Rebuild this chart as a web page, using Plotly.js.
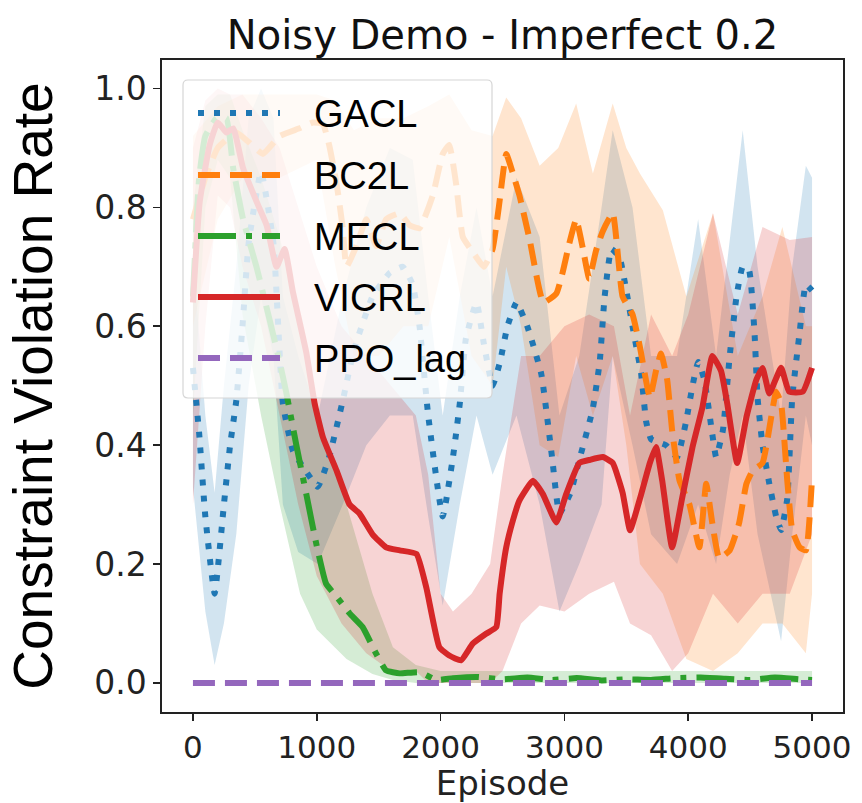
<!DOCTYPE html>
<html><head><meta charset="utf-8">
<script src="https://cdn.plot.ly/plotly-3.0.1.min.js"></script>
<style>html,body{margin:0;padding:0;background:#fff}</style>
</head><body><div id="chart" style="width:862px;height:803px"></div>
<script>
// ---- GACL (mean) ----
const gaclX = [0,50,100,175,250,300,350,400,450,550,650,726,808,900,1008,1100,1210,1300,1450,1590,1695,1775,1830,1900,2017,2100,2155,2205,2290,2350,2420,2480,2540,2613,2700,2813,2900,2960,3050,3120,3228,3285,3325,3380,3445,3500,3550,3620,3660,3700,3820,3910,3980,4035,4080,4130,4190,4225,4280,4335,4390,4440,4490,4535,4560,4600,4655,4710,4750,4800,4840,4900,4950,5000];
const gaclY = [0.53,0.42,0.28,0.15,0.30,0.40,0.475,0.60,0.74,0.86,0.74,0.47,0.39,0.36,0.33,0.38,0.475,0.56,0.65,0.69,0.70,0.67,0.60,0.45,0.28,0.38,0.47,0.58,0.64,0.57,0.50,0.54,0.60,0.64,0.60,0.52,0.38,0.285,0.32,0.375,0.46,0.54,0.65,0.73,0.716,0.66,0.60,0.52,0.44,0.41,0.40,0.38,0.437,0.50,0.54,0.51,0.425,0.38,0.425,0.55,0.65,0.70,0.695,0.59,0.48,0.40,0.335,0.28,0.257,0.31,0.48,0.59,0.67,0.66];
const gaclBandX = [0,100,175,250,350,450,550,650,726,850,1008,1210,1400,1590,1775,1900,2017,2155,2290,2420,2613,2800,2960,3120,3300,3390,3550,3700,3910,4080,4225,4335,4440,4560,4750,4840,4950,5000];
const gaclLo = [0.33,0.12,0.03,0.10,0.25,0.50,0.65,0.55,0.30,0.22,0.20,0.30,0.40,0.45,0.45,0.28,0.13,0.30,0.45,0.35,0.45,0.30,0.12,0.20,0.30,0.55,0.40,0.25,0.20,0.30,0.20,0.35,0.45,0.25,0.07,0.25,0.45,0.40];
const gaclHi = [0.72,0.45,0.32,0.50,0.70,0.95,1.00,0.95,0.65,0.55,0.45,0.65,0.80,0.90,0.88,0.65,0.45,0.65,0.80,0.65,0.85,0.75,0.45,0.55,0.80,0.93,0.80,0.55,0.55,0.78,0.55,0.75,0.93,0.70,0.45,0.70,0.87,0.85];

// ---- BC2L ----
const bc2lX = [0,100,200,350,450,565,700,860,970,1050,1100,1160,1210,1240,1320,1400,1480,1560,1670,1750,1830,1937,2017,2070,2125,2180,2260,2350,2420,2470,2530,2580,2637,2720,2830,2935,2985,3040,3095,3150,3200,3255,3310,3390,3470,3550,3610,3690,3740,3780,3830,3870,3930,4010,4090,4145,4195,4250,4335,4410,4470,4520,4600,4670,4710,4750,4800,4840,4900,4950,5000];
const bc2lY = [0.78,0.85,0.90,0.926,0.91,0.89,0.92,0.933,0.943,0.94,0.905,0.84,0.765,0.70,0.735,0.78,0.735,0.78,0.79,0.77,0.765,0.82,0.89,0.905,0.84,0.75,0.725,0.70,0.73,0.80,0.89,0.86,0.82,0.745,0.64,0.655,0.69,0.74,0.78,0.73,0.68,0.727,0.76,0.79,0.65,0.62,0.565,0.48,0.525,0.554,0.51,0.425,0.34,0.30,0.228,0.335,0.268,0.21,0.223,0.268,0.335,0.357,0.37,0.447,0.49,0.47,0.34,0.257,0.228,0.223,0.345];
const bc2lBandX = [0,200,400,700,1000,1150,1300,1500,1700,1900,2070,2250,2420,2530,2650,2800,2950,3095,3230,3390,3500,3610,3795,3985,4200,4400,4600,4760,4950,5000];
const bc2lLo = [0.60,0.78,0.85,0.85,0.88,0.70,0.55,0.55,0.60,0.60,0.75,0.55,0.50,0.70,0.60,0.40,0.38,0.55,0.45,0.55,0.40,0.20,0.15,0.04,0.02,0.05,0.10,0.10,0.05,0.15];
const bc2lHi = [0.92,0.97,0.99,0.99,0.99,0.98,0.93,0.95,0.95,0.97,0.99,0.93,0.92,0.985,0.95,0.87,0.90,0.975,0.857,0.975,0.90,0.857,0.795,0.65,0.79,0.55,0.65,0.767,0.60,0.60];

// ---- MECL ----
const meclX = [0,50,100,190,270,325,405,513,620,700,755,835,915,995,1075,1160,1265,1370,1480,1560,1670,1830,1965,2100,2300,2500,2700,2900,3100,3300,3500,3700,3900,4100,4300,4500,4700,4900,5000];
const meclY = [0.65,0.85,0.92,0.95,0.95,0.866,0.78,0.70,0.61,0.54,0.487,0.40,0.318,0.235,0.167,0.145,0.117,0.094,0.049,0.021,0.016,0.018,0.005,0.008,0.01,0.006,0.009,0.005,0.008,0.004,0.006,0.005,0.008,0.009,0.007,0.005,0.009,0.006,0.005];
const meclBandX = [0,100,200,300,400,550,700,865,1000,1240,1450,1615,1800,2000,2500,3000,3500,4000,4500,5000];
const meclLo = [0.45,0.80,0.88,0.85,0.62,0.45,0.30,0.15,0.09,0.04,0.015,0.005,0,0,0,0,0,0,0,0];
const meclHi = [0.80,0.97,0.99,0.99,0.93,0.85,0.75,0.60,0.45,0.30,0.15,0.06,0.03,0.02,0.02,0.02,0.02,0.02,0.02,0.02];

// ---- VICRL ----
const vicrlX = [0,55,135,200,270,325,405,513,595,675,740,808,915,983,1050,1160,1265,1345,1450,1560,1670,1805,1885,1990,2070,2165,2260,2370,2450,2477,2530,2585,2637,2745,2825,2935,3015,3120,3200,3310,3390,3470,3530,3610,3690,3740,3790,3870,3950,4035,4115,4195,4265,4315,4395,4470,4550,4600,4655,4750,4815,4925,5000];
const vicrlY = [0.64,0.81,0.905,0.943,0.926,0.933,0.866,0.81,0.77,0.70,0.73,0.657,0.556,0.47,0.413,0.357,0.30,0.285,0.25,0.228,0.223,0.217,0.16,0.06,0.046,0.038,0.066,0.083,0.094,0.15,0.228,0.274,0.307,0.34,0.318,0.27,0.318,0.37,0.375,0.38,0.37,0.32,0.257,0.31,0.37,0.397,0.34,0.228,0.31,0.397,0.464,0.55,0.525,0.47,0.37,0.447,0.51,0.53,0.487,0.53,0.49,0.49,0.53];
const vicrlBandX = [0,100,200,300,400,550,700,850,1000,1200,1400,1600,1800,1900,2000,2100,2250,2400,2500,2650,2800,3000,3200,3400,3530,3700,3870,4000,4200,4400,4600,4820,5000];
const vicrlLo = [0.30,0.60,0.82,0.80,0.70,0.60,0.45,0.30,0.18,0.10,0.05,0.02,0.02,0,0,0,0,0,0.02,0.10,0.13,0.12,0.15,0.17,0.10,0.08,0.02,0.05,0.15,0.10,0.15,0.15,0.25];
const vicrlHi = [0.90,0.98,1.0,0.99,0.99,0.95,0.90,0.80,0.70,0.60,0.55,0.50,0.45,0.35,0.15,0.12,0.15,0.20,0.35,0.55,0.55,0.60,0.62,0.60,0.45,0.62,0.55,0.62,0.79,0.62,0.767,0.745,0.75];

// ---- PPO_lag ----
const ppoX = [0,5000];
const ppoY = [0,0];

const names = ['GACL','BC2L','MECL','VICRL','PPO_lag'];
const colors = ['#1f77b4','#ff7f0e','#2ca02c','#d62728','#9467bd'];
const fills = ['rgba(31,119,180,0.2)','rgba(255,127,14,0.2)','rgba(44,160,44,0.2)','rgba(214,39,40,0.2)'];
const dashes = ['6px,10px','22px,10px','38px,10px,6px,10px','solid','22px,10px'];

const xTicks = [0,1000,2000,3000,4000,5000];
const yTicks = [0.0,0.2,0.4,0.6,0.8,1.0];

function band(bx, lo, hi, fc){
  return {x: bx.concat(bx.slice().reverse()), y: hi.concat(lo.slice().reverse()),
    type:'scatter', mode:'lines', fill:'toself', fillcolor: fc, line:{width:0},
    hoverinfo:'skip', showlegend:false};
}
function line(x, y, i){
  return {x:x, y:y, type:'scatter', mode:'lines', name:names[i], showlegend:false,
    line:{color:colors[i], width:6, dash:dashes[i], shape:'spline', smoothing:0.4}};
}

const data = [
  band(gaclBandX, gaclLo, gaclHi, fills[0]),
  band(bc2lBandX, bc2lLo, bc2lHi, fills[1]),
  band(meclBandX, meclLo, meclHi, fills[2]),
  band(vicrlBandX, vicrlLo, vicrlHi, fills[3]),
  line(gaclX, gaclY, 0),
  line(bc2lX, bc2lY, 1),
  line(meclX, meclY, 2),
  line(vicrlX, vicrlY, 3),
  line(ppoX, ppoY, 4)
];

// ---- figure geometry (pixels) ----
const W = 862, H = 803, ML = 162, MR = 19, MT = 60, MB = 91;
const PW = W - ML - MR, PH = H - MT - MB;
const px2x = p => (p - ML) / PW;
const px2y = p => 1 - (p - MT) / PH;

// custom legend (matplotlib style box, long samples)
const lgBox = {x0:183, x1:492, y0:80, y1:398, r:5};
const lgSampleX = [198, 280];
const lgRowY = [113, 175, 236, 297, 358];
const lgTextX = 312;

function roundRect(b){
  const x0=px2x(b.x0), x1=px2x(b.x1), yt=px2y(b.y0), yb=px2y(b.y1);
  const rx=b.r/PW, ry=b.r/PH;
  return `M${x0+rx},${yt} L${x1-rx},${yt} Q${x1},${yt} ${x1},${yt-ry} L${x1},${yb+ry} Q${x1},${yb} ${x1-rx},${yb} `+
         `L${x0+rx},${yb} Q${x0},${yb} ${x0},${yb+ry} L${x0},${yt-ry} Q${x0},${yt} ${x0+rx},${yt} Z`;
}

const shapes = [{type:'path', xref:'paper', yref:'paper', layer:'above', path:roundRect(lgBox),
  fillcolor:'rgba(255,255,255,0.8)', line:{color:'#d6d6d6', width:1.2}}];
const annotations = [];
names.forEach((n,i)=>{
  shapes.push({type:'line', xref:'paper', yref:'paper', layer:'above',
    x0:px2x(lgSampleX[0]), x1:px2x(lgSampleX[1]), y0:px2y(lgRowY[i]), y1:px2y(lgRowY[i]),
    line:{color:colors[i], width:6, dash:dashes[i]}});
  annotations.push({xref:'paper', yref:'paper', x:px2x(lgTextX), y:px2y(lgRowY[i]+1), xanchor:'left', yanchor:'middle',
    showarrow:false, text:n, font:{family:'Liberation Sans, Arial', size:38, color:'#000'}});
});

const axisCommon = {showgrid:false, zeroline:false, showline:true, mirror:true, linecolor:'#222', linewidth:1.6,
  ticks:'outside', ticklen:7, tickwidth:1.6, tickcolor:'#222'};

const layout = {
  width:W, height:H,
  margin:{l:ML, r:MR, t:MT, b:MB},
  paper_bgcolor:'#fff', plot_bgcolor:'#fff',
  title:{text:'Noisy Demo - Imperfect 0.2', font:{family:'DejaVu Sans', size:40, color:'#111'},
    x:0.5, xref:'paper', y:0.957, yref:'container', yanchor:'middle'},
  xaxis: Object.assign({}, axisCommon, {range:[-250,5250], tickvals:xTicks, ticktext:xTicks.map(String),
    tickfont:{family:'DejaVu Sans', size:31, color:'#222'},
    title:{text:'Episode', font:{family:'DejaVu Sans', size:34, color:'#222'}, standoff:10}}),
  yaxis: Object.assign({}, axisCommon, {range:[-0.049,1.048], tickvals:yTicks, ticktext:yTicks.map(v=>v.toFixed(1)),
    tickfont:{family:'DejaVu Sans', size:33, color:'#222'},
    title:{text:'Constraint Violation Rate', font:{family:'Liberation Sans, Arial', size:55, color:'#000'}, standoff:24}}),
  shapes: shapes,
  annotations: annotations,
  showlegend:false
};

Plotly.newPlot('chart', data, layout, {displayModeBar:false, staticPlot:true});
</script>
</body></html>
